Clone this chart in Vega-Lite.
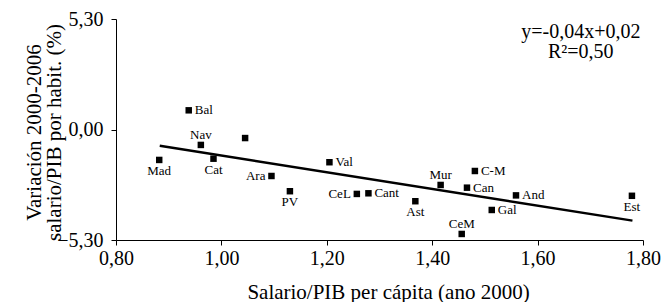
{
  "$schema": "https://vega.github.io/schema/vega-lite/v6.json",
  "autosize": {"type": "none"},
  "padding": {"left": 116, "top": 19, "right": 19, "bottom": 62},
  "width": 527,
  "height": 221,
  "background": "white",
  "config": {
    "view": {"stroke": null},
    "font": "Liberation Serif",
    "axis": {
      "grid": false,
      "domainColor": "black",
      "domainWidth": 1,
      "tickColor": "black",
      "tickSize": 5,
      "labelFont": "Liberation Serif",
      "labelFontSize": 20,
      "labelColor": "black",
      "titleFont": "Liberation Serif",
      "titleFontSize": 21,
      "titleFontWeight": "normal",
      "titleColor": "black",
      "labelOverlap": false,
      "labelFlush": false
    }
  },
  "data": {
    "values": [
      {"region": "Mad", "x": 0.882, "y": -1.46},
      {"region": "Bal", "x": 0.938, "y": 0.92},
      {"region": "Nav", "x": 0.961, "y": -0.74},
      {"region": "Cat", "x": 0.985, "y": -1.40},
      {"region": "", "x": 1.045, "y": -0.41},
      {"region": "Ara", "x": 1.095, "y": -2.23},
      {"region": "PV", "x": 1.130, "y": -2.96},
      {"region": "Val", "x": 1.205, "y": -1.57},
      {"region": "CeL", "x": 1.257, "y": -3.09},
      {"region": "Cant", "x": 1.279, "y": -3.06},
      {"region": "Ast", "x": 1.368, "y": -3.44},
      {"region": "Mur", "x": 1.416, "y": -2.66},
      {"region": "CeM", "x": 1.456, "y": -5.01},
      {"region": "Can", "x": 1.466, "y": -2.79},
      {"region": "C-M", "x": 1.481, "y": -1.99},
      {"region": "Gal", "x": 1.513, "y": -3.86},
      {"region": "And", "x": 1.559, "y": -3.16},
      {"region": "Est", "x": 1.779, "y": -3.18}
    ]
  },
  "encoding": {
    "x": {
      "field": "x", "type": "quantitative",
      "scale": {"domain": [0.8, 1.8], "nice": false, "zero": false},
      "axis": {
        "values": [0.8, 1.0, 1.2, 1.4, 1.6, 1.8],
        "labelExpr": "replace(format(datum.value, '.2f'), '.', ',')",
        "labelPadding": 3,
        "title": "Salario/PIB per cápita (ano 2000)",
        "titleX": 272,
        "titleY": 58,
        "titleBaseline": "alphabetic"
      }
    },
    "y": {
      "field": "y", "type": "quantitative",
      "scale": {"domain": [-5.3, 5.3], "nice": false, "zero": false},
      "axis": {
        "values": [-5.3, 0, 5.3],
        "labelExpr": "replace(format(datum.value, '.2f'), '.', ',')",
        "labelPadding": 8,
        "title": ["Variación 2000-2006", "salario/PIB por habit. (%)"],
        "titleX": -72,
        "titleY": 113,
        "titleBaseline": "bottom",
        "titleLineHeight": 20,
        "titleAngle": 270
      }
    }
  },
  "layer": [
    {
      "data": {"values": [{"x": 0.883, "y": -0.78}, {"x": 1.780, "y": -4.37}]},
      "mark": {"type": "line", "color": "black", "strokeWidth": 2.5},
      "encoding": {}
    },
    {
      "mark": {"type": "point", "shape": "square", "filled": true, "color": "black", "size": 42, "opacity": 1}
    },
    {
      "transform": [{"filter": {"field": "region", "oneOf": ["Bal", "Val", "Cant", "C-M", "Can", "And", "Gal"]}}],
      "mark": {"type": "text", "align": "left", "baseline": "middle", "dx": 6, "fontSize": 13, "font": "Liberation Serif", "color": "black"},
      "encoding": {"text": {"field": "region"}}
    },
    {
      "transform": [{"filter": {"field": "region", "oneOf": ["Ara", "CeL"]}}],
      "mark": {"type": "text", "align": "right", "baseline": "middle", "dx": -6, "fontSize": 13, "font": "Liberation Serif", "color": "black"},
      "encoding": {"text": {"field": "region"}}
    },
    {
      "transform": [{"filter": {"field": "region", "oneOf": ["Nav", "Mur", "CeM"]}}],
      "mark": {"type": "text", "align": "center", "baseline": "middle", "dy": -10, "fontSize": 13, "font": "Liberation Serif", "color": "black"},
      "encoding": {"text": {"field": "region"}}
    },
    {
      "transform": [{"filter": {"field": "region", "oneOf": ["Mad", "Cat", "PV", "Ast", "Est"]}}],
      "mark": {"type": "text", "align": "center", "baseline": "middle", "dy": 11, "fontSize": 13, "font": "Liberation Serif", "color": "black"},
      "encoding": {"text": {"field": "region"}}
    },
    {
      "data": {"values": [{"x": 1.682, "y": 4.39, "label": "y=-0,04x+0,02\nR²=0,50"}]},
      "mark": {"type": "text", "align": "center", "baseline": "alphabetic", "lineBreak": "\n", "lineHeight": 20, "fontSize": 20, "font": "Liberation Serif", "color": "black"},
      "encoding": {"text": {"field": "label"}}
    }
  ]
}
